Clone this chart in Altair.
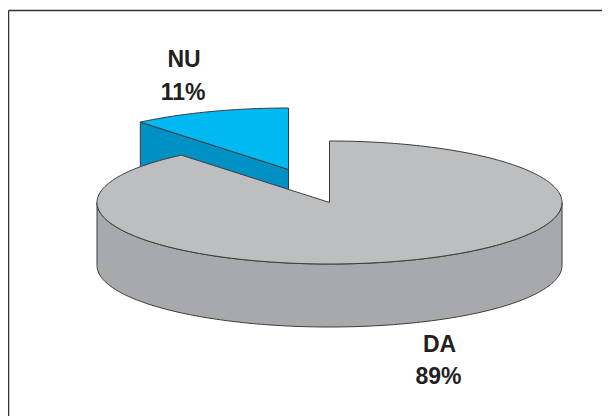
import math
import altair as alt
import pandas as pd

categories = ["DA", "NU"]
shares = [89, 11]
label_text = ["89%", "11%"]

# pie layout (page pixels)
CX, CY, RX, RY, DEPTH = 329.5, 202.5, 232.5, 61.5, 63
NU_DX, NU_DY = -41, -33

cut = 2 * math.pi * shares[0] / sum(shares)
def ell(t, cx=CX, cy=CY):
    return cx + RX * math.sin(t), cy - RY * math.cos(t)
corner = ell(cut)

def lower(x, cx=CX, cy=CY):
    return cy + RY * math.sqrt(max(0, 1 - ((x - cx) / RX) ** 2))
def upper(x, cx=CX, cy=CY):
    return cy - RY * math.sqrt(max(0, 1 - ((x - cx) / RX) ** 2))

N = 180
sweep = [CX - RX * math.cos(math.pi * i / N) for i in range(N + 1)]

# DA top surface
rows = []
xs = sorted(set([x for x in sweep if abs(x - CX) > 0.01] + [corner[0]]))
for x in xs:
    if x < corner[0]:
        rows.append((x, upper(x), lower(x)))
    elif x < CX:
        y = corner[1] + (CY - corner[1]) * (x - corner[0]) / (CX - corner[0])
        rows.append((x, y, lower(x)))
    else:
        rows.append((x, upper(x), lower(x)))
rows.append((CX - 0.001, CY, lower(CX)))
rows.append((CX, upper(CX), lower(CX)))
rows.sort()
da_top = pd.DataFrame(rows, columns=["x", "y", "y2"])
da_side = pd.DataFrame([(x, lower(x), lower(x) + DEPTH) for x in sweep],
                       columns=["x", "y", "y2"])

# NU wedge, pulled out of the pie
ncx, ncy = CX + NU_DX, CY + NU_DY
nleft = ell(cut, ncx, ncy)
steps = 60
rows = []
for j in range(steps + 1):
    x = nleft[0] + (ncx - nleft[0]) * j / steps
    yl = nleft[1] + (ncy - nleft[1]) * j / steps
    rows.append((x, upper(x, ncx, ncy), yl))
nu_top = pd.DataFrame(rows, columns=["x", "y", "y2"])
nu_side = pd.DataFrame([(nleft[0], nleft[1], nleft[1] + DEPTH), (ncx, ncy, ncy + DEPTH)],
                       columns=["x", "y", "y2"])

X = alt.X("x:Q", axis=None, scale=alt.Scale(domain=[8, 602], nice=False, zero=False))
Y = alt.Y("y:Q", axis=None, scale=alt.Scale(domain=[416, 8], nice=False, zero=False))

def area(df, color):
    return alt.Chart(df).mark_area(fill=color, stroke="#3a3a3c", strokeWidth=1, opacity=1).encode(
        x=X, y=Y, y2="y2:Q")

labels = pd.DataFrame({
    "x": [439.5, 438.5, 184, 183],
    "y": [344.5, 377, 59.5, 92.5],
    "t": [categories[0], label_text[0], categories[1], label_text[1]],
})
text = alt.Chart(labels).mark_text(
    font="Liberation Sans", fontWeight="bold", fontSize=23, color="#231f20",
    align="center", baseline="middle").encode(x=X, y=Y, text="t:N")

frame_h = alt.Chart(pd.DataFrame({"x": [8.5], "x2": [602], "y": [10.5]})).mark_rule(
    color="#333333", strokeWidth=1.5).encode(x=X, x2="x2:Q", y=Y)
frame_v = alt.Chart(pd.DataFrame({"x": [8.5], "y": [10.5], "y2": [416]})).mark_rule(
    color="#333333", strokeWidth=1.5).encode(x=X, y=Y, y2="y2:Q")

chart = alt.layer(
    area(nu_side, "#0091C4"),
    area(nu_top, "#00B9F2"),
    area(da_side, "#A7A9AC"),
    area(da_top, "#BCBEC0"),
    text, frame_h, frame_v,
).properties(width=594, height=408, padding=0, background="white",
             autosize=alt.AutoSizeParams(type="none")
).configure_view(stroke=None)

chart.save("out.html", embed_options={"renderer": "svg", "actions": False})
